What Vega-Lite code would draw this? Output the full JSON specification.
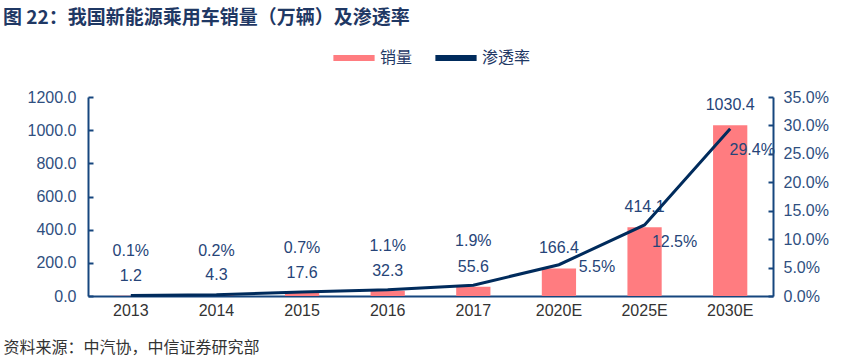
{
  "$schema": "https://vega.github.io/schema/vega-lite/v6.json",
  "width": 685,
  "height": 199,
  "autosize": "none",
  "padding": {"left": 88, "top": 97, "right": 71, "bottom": 63},
  "background": "white",
  "title": {
    "text": "图 22：我国新能源乘用车销量（万辆）及渗透率",
    "anchor": "start",
    "frame": "group",
    "dx": -85,
    "dy": -2,
    "fontSize": 19,
    "fontWeight": "bold",
    "color": "#1F3864",
    "font": "Noto Sans CJK SC"
  },
  "config": {
    "view": {"stroke": null},
    "font": "Liberation Sans",
    "axis": {
      "grid": false,
      "domainColor": "#16467e",
      "domainWidth": 2,
      "tickColor": "#16467e",
      "tickWidth": 2,
      "tickSize": -5,
      "labelFontSize": 16,
      "labelColor": "#2f4f7f",
      "labelFont": "Liberation Sans",
      "labelOverlap": false
    },
    "axisY": {"labelOverlap": false, "labelBound": false, "labelFlush": false}
  },
  "data": {
    "values": [
      {"year": "2013", "sales": 1.2, "rate": 0.001},
      {"year": "2014", "sales": 4.3, "rate": 0.002},
      {"year": "2015", "sales": 17.6, "rate": 0.007},
      {"year": "2016", "sales": 32.3, "rate": 0.011},
      {"year": "2017", "sales": 55.6, "rate": 0.019},
      {"year": "2020E", "sales": 166.4, "rate": 0.055},
      {"year": "2025E", "sales": 414.1, "rate": 0.125},
      {"year": "2030E", "sales": 1030.4, "rate": 0.294}
    ]
  },
  "encoding": {
    "x": {
      "field": "year",
      "type": "nominal",
      "sort": null,
      "scale": {"paddingInner": 0.6, "paddingOuter": 0.3},
      "axis": {
        "labelAngle": 0,
        "ticks": false,
        "labelPadding": 6,
        "labelColor": "#333333",
        "title": "资料来源：中汽协，中信证券研究部",
        "titleX": -85,
        "titleY": 51,
        "titleAlign": "left",
        "titleBaseline": "middle",
        "titleFontSize": 16,
        "titleFontWeight": "normal",
        "titleColor": "#333333",
        "titleFont": "Noto Sans CJK SC"
      }
    }
  },
  "layer": [
    {
      "layer": [
        {
          "mark": {"type": "bar"},
          "encoding": {
            "y": {
              "field": "sales",
              "type": "quantitative",
              "scale": {"domain": [0, 1200], "nice": false},
              "axis": {
                "tickCount": 7,
                "format": ".1f",
                "title": null,
                "labelPadding": 17,
                "labelOverlap": false,
                "labelBound": false
              }
            },
            "color": {
              "datum": "销量",
              "type": "nominal",
              "scale": {"domain": ["销量", "渗透率"], "range": ["#FF7C80", "#002B5C"]},
              "legend": {
                "orient": "none",
                "legendX": 242,
                "legendY": -63,
                "direction": "horizontal",
                "title": null,
                "symbolType": "stroke",
                "symbolSize": 1700,
                "symbolStrokeWidth": 6,
                "labelFontSize": 16,
                "labelColor": "#1F3864",
                "labelFont": "Noto Sans CJK SC",
                "labelOffset": 2,
                "columnPadding": 10
              }
            }
          }
        },
        {
          "mark": {"type": "text", "dy": -20, "fontSize": 16, "color": "#264478", "baseline": "middle"},
          "encoding": {
            "y": {"field": "sales", "type": "quantitative"},
            "text": {"field": "sales", "type": "quantitative", "format": ".1f"}
          }
        }
      ]
    },
    {
      "layer": [
        {
          "mark": {"type": "line", "strokeWidth": 3},
          "encoding": {
            "y": {
              "field": "rate",
              "type": "quantitative",
              "scale": {"domain": [0, 0.35], "nice": false},
              "axis": {
                "orient": "right",
                "tickCount": 8,
                "format": ".1%",
                "title": null,
                "labelPadding": 15,
                "labelOverlap": false,
                "labelBound": false
              }
            },
            "color": {"datum": "渗透率", "type": "nominal"}
          }
        },
        {
          "transform": [{"filter": "datum.rate < 0.03"}],
          "mark": {"type": "text", "dy": -44, "fontSize": 16, "color": "#264478", "baseline": "middle"},
          "encoding": {
            "y": {"field": "rate", "type": "quantitative"},
            "text": {"field": "rate", "type": "quantitative", "format": ".1%"}
          }
        },
        {
          "transform": [{"filter": "datum.year === '2020E'"}],
          "mark": {"type": "text", "dx": 38, "dy": 2, "fontSize": 16, "color": "#264478", "baseline": "middle"},
          "encoding": {
            "y": {"field": "rate", "type": "quantitative"},
            "text": {"field": "rate", "type": "quantitative", "format": ".1%"}
          }
        },
        {
          "transform": [{"filter": "datum.year === '2025E'"}],
          "mark": {"type": "text", "dx": 30, "dy": 17, "fontSize": 16, "color": "#264478", "baseline": "middle"},
          "encoding": {
            "y": {"field": "rate", "type": "quantitative"},
            "text": {"field": "rate", "type": "quantitative", "format": ".1%"}
          }
        },
        {
          "transform": [{"filter": "datum.year === '2030E'"}],
          "mark": {"type": "text", "dx": 22, "dy": 21, "fontSize": 16, "color": "#264478", "baseline": "middle"},
          "encoding": {
            "y": {"field": "rate", "type": "quantitative"},
            "text": {"field": "rate", "type": "quantitative", "format": ".1%"}
          }
        }
      ]
    }
  ],
  "resolve": {"scale": {"y": "independent"}}
}
